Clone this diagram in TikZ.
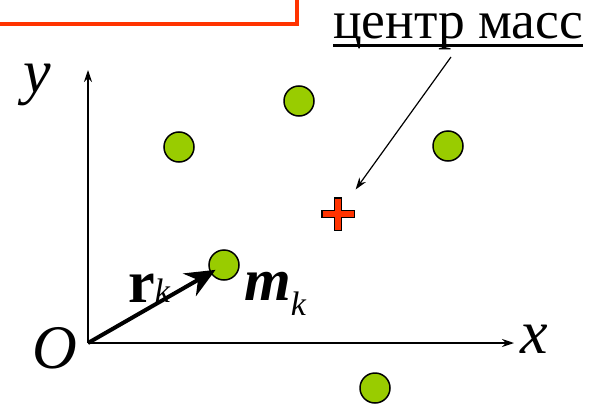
\documentclass[tikz,border=0pt]{standalone}
\usepackage{fontspec}
\setmainfont{Liberation Serif}
\usetikzlibrary{arrows.meta}
\definecolor{boxred}{RGB}{255,51,0}
\definecolor{massgreen}{RGB}{153,204,0}

\begin{document}
\begin{tikzpicture}[x=1pt,y=-1pt,>={Stealth[length=12pt,width=8pt]},
  mass/.style={circle, draw, line width=1.5pt, fill=massgreen, minimum size=30pt, inner sep=0pt},
  lbl/.style={font=\fontsize{62}{64}\selectfont\itshape, inner sep=0pt, anchor=base west}]
\useasboundingbox (0,0) rectangle (591,404);
\draw[boxred, line width=4pt] (-10,-10) rectangle (297,24);

\coordinate (O) at (88,343);
\coordinate (xend) at (514,343);
\coordinate (yend) at (88,70);
\draw[->, line width=1.2pt] (O) -- (xend);
\draw[->, line width=1.2pt] (O) -- (yend);

\node[lbl] (ylbl) at (23,92) {y};
\node[lbl] (olbl) at (32,368) {O};
\node[lbl] (xlbl) at (520,353) {x};

\node[mass] (m1) at (179,147) {};
\node[mass] (m2) at (299,101) {};
\node[mass] (m3) at (448,146) {};
\node[mass] (mk) at (224,265) {};
\node[mass] (m5) at (375,388) {};

% centre of mass
\node[circle, minimum size=60pt, inner sep=0pt] (cm) at (338,214) {};
\draw[line width=8.5pt] (321,214) -- (355,214) (338,197) -- (338,231);
\draw[boxred, line width=5.5pt] (322.5,214) -- (353.5,214) (338,198.5) -- (338,229.5);

\node[font=\fontsize{53.5}{55}\selectfont, inner sep=0pt, text height=30pt, text depth=12pt, anchor=base west] (cmlbl) at (333,38) {центр масс};
\draw[line width=3.5pt] (cmlbl.base west) ++(0,7.5) -- ([yshift=-7.5pt]cmlbl.base east);
\coordinate (cmtail) at (451,57);
\draw[->, line width=1.2pt] (cmtail) -- (cm);

% radius vector
\draw[-{Stealth[length=30pt,width=26pt]}, line width=4pt, shorten >=-6pt] (O) -- (mk);
\node[lbl, font=\fontsize{60}{62}\selectfont\bfseries] (rlbl) at (128,302) {r\fontsize{34}{34}\selectfont\mdseries\itshape k};
\node[lbl, font=\fontsize{60}{62}\selectfont\bfseries\itshape] (mlbl) at (244,300) {m\raisebox{-15pt}{\fontsize{34}{34}\selectfont\mdseries k}};
\end{tikzpicture}
\end{document}
